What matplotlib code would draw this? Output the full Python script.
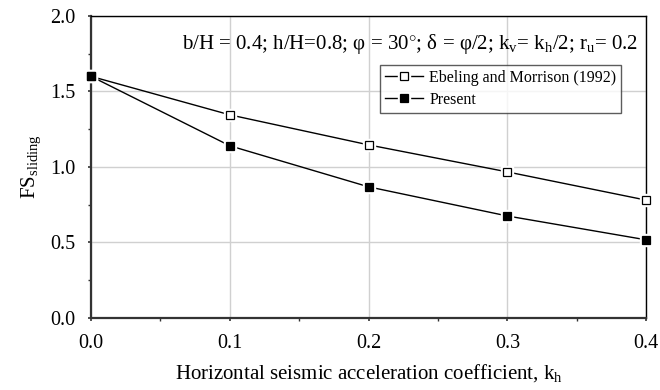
import matplotlib
matplotlib.use("Agg")
import matplotlib.pyplot as plt
from matplotlib.lines import Line2D
from matplotlib.legend_handler import HandlerTuple
from matplotlib.ticker import MultipleLocator, FormatStrFormatter

kh = [0.0, 0.1, 0.2, 0.3, 0.4]
ebeling = [1.60, 1.345, 1.146, 0.967, 0.78]
present = [1.60, 1.140, 0.868, 0.675, 0.517]

plt.rcParams['font.family'] = ['Liberation Serif', 'DejaVu Serif']
plt.rcParams['mathtext.fontset'] = 'custom'
plt.rcParams['mathtext.rm'] = 'Liberation Serif'
plt.rcParams['mathtext.it'] = 'Liberation Serif:italic'

fig = plt.figure(figsize=(6.6, 3.9), dpi=100)
ax = fig.add_axes([0.138, 0.185, 0.841, 0.774])

ax.grid(True, color='#d0d0d0', lw=1.0, zorder=0)
ax.set_axisbelow(True)

for y, face in ((ebeling, 'white'), (present, 'black')):
    ax.plot(kh, y, color='black', lw=1.0, zorder=2, clip_on=False)
    ax.plot(kh, y, ls='none', marker='s', ms=8.5, mfc='white', mec='white',
            zorder=3, clip_on=False)
    ax.plot(kh, y, ls='none', marker='s', ms=5.5, mfc=face, mec='black',
            mew=0.9, zorder=4, clip_on=False)

ax.set_xlim(0, 0.4)
ax.set_ylim(0, 2.0)
ax.xaxis.set_major_locator(MultipleLocator(0.1))
ax.xaxis.set_minor_locator(MultipleLocator(0.05))
ax.yaxis.set_major_locator(MultipleLocator(0.5))
ax.yaxis.set_minor_locator(MultipleLocator(0.25))
ax.xaxis.set_major_formatter(FormatStrFormatter('%.1f'))
ax.yaxis.set_major_formatter(FormatStrFormatter('%.1f'))
ax.tick_params(which='major', direction='out', length=2.5, width=1.2, labelsize=14.5,
               color='#333333', pad=9)
ax.tick_params(which='minor', direction='out', length=2.0, width=1.0, color='#333333')

for s in ('left', 'bottom'):
    ax.spines[s].set_linewidth(1.6)
    ax.spines[s].set_color('#333333')
for s in ('top', 'right'):
    ax.spines[s].set_linewidth(1.0)
    ax.spines[s].set_color('black')

ax.set_xlabel(r'Horizontal seismic acceleration coefficient, k$_{\rm h}$', fontsize=15, labelpad=7)
ax.set_ylabel(r'FS$_{\rm sliding}$', fontsize=15, labelpad=5)

ax.text(0.985, 0.89,
        r'b/H = 0.4; h/H=0.8; φ = 30$^{\circ}$; δ = φ/2; k$_{\rm v}$= k$_{\rm h}$/2; r$_{\rm u}$= 0.2',
        transform=ax.transAxes, ha='right', va='baseline', fontsize=15)

def handle(face):
    l = Line2D([], [], color='black', lw=1.0)
    w = Line2D([], [], ls='none', marker='s', ms=8.5, mfc='white', mec='white')
    m = Line2D([], [], ls='none', marker='s', ms=5.5, mfc=face, mec='black', mew=0.9)
    return (l, w, m)

leg = ax.legend([handle('white'), handle('black')],
                ['Ebeling and Morrison (1992)', 'Present'],
                handler_map={tuple: HandlerTuple(ndivide=1)},
                loc='upper right', bbox_to_anchor=(0.955, 0.838), borderaxespad=0,
                fontsize=11.5, frameon=True, fancybox=False, handlelength=2.4,
                handletextpad=0.4, borderpad=0.3, labelspacing=0.4)
leg.get_frame().set_edgecolor('#333333')
leg.get_frame().set_linewidth(1.0)
leg.set_zorder(5)

fig.savefig('out.png', dpi=100)
